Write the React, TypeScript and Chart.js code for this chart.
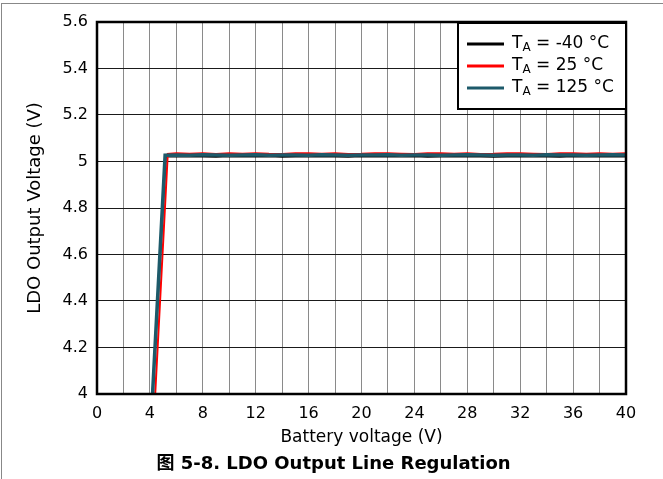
import React, { useEffect, useRef } from 'react';
import { Chart, registerables } from 'chart.js';

Chart.register(...registerables);

const legendLabels = ['-40 °C', '25 °C', '125 °C'];
const seriesColors = ['#000000', '#ff0000', '#1d5a6a'];
const seriesWidths = [2, 2, 3.5];

const flatX = [6, 7, 8, 9, 10, 11, 12, 13, 14, 15, 16, 17, 18, 19, 20, 21, 22, 23, 24, 25, 26, 27, 28, 29, 30, 31, 32, 33, 34, 35, 36, 37, 38, 39, 40];

const blackRiseX = [4.2, 5.2];
const blackRiseY = [4.0, 5.022];
const blackFlatY = [5.023, 5.021, 5.022, 5.020, 5.023, 5.022, 5.021, 5.023, 5.020, 5.022, 5.023, 5.021, 5.022, 5.020, 5.023, 5.022, 5.021, 5.022, 5.023, 5.020, 5.022, 5.021, 5.023, 5.022, 5.020, 5.022, 5.023, 5.021, 5.022, 5.020, 5.023, 5.022, 5.021, 5.023, 5.022];

const redRiseX = [4.4, 5.35];
const redRiseY = [4.0, 5.033];
const redFlatY = [5.035, 5.033, 5.036, 5.032, 5.035, 5.033, 5.036, 5.033, 5.032, 5.035, 5.036, 5.033, 5.035, 5.032, 5.033, 5.036, 5.035, 5.033, 5.032, 5.035, 5.036, 5.033, 5.035, 5.032, 5.033, 5.036, 5.035, 5.033, 5.032, 5.035, 5.036, 5.033, 5.035, 5.033, 5.035];

const tealRiseX = [4.2, 5.15];
const tealRiseY = [4.0, 5.027];
const tealFlatY = [5.028, 5.027, 5.029, 5.028, 5.027, 5.028, 5.029, 5.027, 5.028, 5.028, 5.027, 5.029, 5.028, 5.027, 5.028, 5.028, 5.029, 5.027, 5.028, 5.028, 5.027, 5.028, 5.029, 5.028, 5.027, 5.028, 5.028, 5.027, 5.029, 5.028, 5.028, 5.027, 5.028, 5.029, 5.028];

const yTicks = [4, 4.2, 4.4, 4.6, 4.8, 5, 5.2, 5.4, 5.6];
const yTickLabels = ['4', '4.2', '4.4', '4.6', '4.8', '5', '5.2', '5.4', '5.6'];
const xTicks = [0, 2, 4, 6, 8, 10, 12, 14, 16, 18, 20, 22, 24, 26, 28, 30, 32, 34, 36, 38, 40];
const xTickLabels = ['0', '', '4', '', '8', '', '12', '', '16', '', '20', '', '24', '', '28', '', '32', '', '36', '', '40'];

const xTitle = 'Battery voltage (V)';
const yTitle = 'LDO Output Voltage (V)';
const caption = '图 5-8. LDO Output Line Regulation';

const FONT = '"DejaVu Sans", "Liberation Sans", sans-serif';

function toPoints(rx: number[], ry: number[], fy: number[]) {
  const xs = [...rx, ...flatX];
  const ys = [...ry, ...fy];
  return xs.map((x, i) => ({ x, y: ys[i] }));
}

const framePlugin = {
  id: 'frame',
  afterDraw(chart: any) {
    const { ctx, chartArea: a } = chart;
    ctx.save();
    ctx.strokeStyle = '#000';
    ctx.lineWidth = 2.5;
    ctx.strokeRect(a.left, a.top, a.right - a.left, a.bottom - a.top);
    ctx.restore();
  },
};

const legendPlugin = {
  id: 'customLegend',
  afterDraw(chart: any) {
    const { ctx, chartArea: a } = chart;
    const w = 168;
    const h = 86;
    const left = a.right - w;
    const top = a.top + 1;
    ctx.save();
    ctx.fillStyle = '#fff';
    ctx.fillRect(left, top, w, h);
    ctx.strokeStyle = '#000';
    ctx.lineWidth = 2;
    ctx.strokeRect(left, top, w, h);
    legendLabels.forEach((lab, i) => {
      const y = top + 21 + i * 22;
      ctx.beginPath();
      ctx.strokeStyle = seriesColors[i];
      ctx.lineWidth = 3;
      ctx.moveTo(left + 9, y);
      ctx.lineTo(left + 46, y);
      ctx.stroke();
      ctx.fillStyle = '#000';
      ctx.textBaseline = 'middle';
      ctx.textAlign = 'left';
      let x = left + 54;
      ctx.font = `17px ${FONT}`;
      ctx.fillText('T', x, y);
      x += ctx.measureText('T').width;
      ctx.font = `12px ${FONT}`;
      ctx.fillText('A', x, y + 4);
      x += ctx.measureText('A').width;
      ctx.font = `17px ${FONT}`;
      ctx.fillText(' = ' + lab, x, y);
    });
    ctx.restore();
  },
};

const captionPlugin = {
  id: 'caption',
  afterDraw(chart: any) {
    const { ctx } = chart;
    ctx.save();
    ctx.fillStyle = '#000';
    ctx.font = `bold 18px "DejaVu Sans", "Noto Sans CJK SC", sans-serif`;
    ctx.textAlign = 'center';
    ctx.textBaseline = 'middle';
    ctx.fillText(caption, chart.width / 2 + 2, 464);
    ctx.restore();
  },
};

export default function App() {
  const ref = useRef<HTMLCanvasElement>(null);

  useEffect(() => {
    if (!ref.current) return;
    const chart = new Chart(ref.current, {
      type: 'line',
      data: {
        datasets: [
          { label: legendLabels[0], data: toPoints(blackRiseX, blackRiseY, blackFlatY) },
          { label: legendLabels[1], data: toPoints(redRiseX, redRiseY, redFlatY) },
          { label: legendLabels[2], data: toPoints(tealRiseX, tealRiseY, tealFlatY) },
        ].map((d, i) => ({
          ...d,
          order: 2 - i,
          borderColor: seriesColors[i],
          backgroundColor: seriesColors[i],
          borderWidth: seriesWidths[i],
          pointRadius: 0,
          tension: 0,
          fill: false,
        })),
      },
      options: {
        animation: false,
        responsive: false,
        devicePixelRatio: 1,
        layout: { padding: { left: 0, right: 37, top: 22, bottom: 31 } },
        plugins: {
          legend: { display: false },
          title: { display: false },
          tooltip: { enabled: false },
        },
        scales: {
          x: {
            type: 'linear',
            min: 0,
            max: 40,
            afterBuildTicks: (scale: any) => {
              scale.ticks = xTicks.map((v) => ({ value: v }));
            },
            afterFit: (scale: any) => {
              scale.height = 54;
            },
            ticks: {
              autoSkip: false,
              maxRotation: 0,
              padding: 10,
              color: '#000',
              font: { family: FONT, size: 16 },
              callback: (_v: any, i: number) => xTickLabels[i],
            },
            grid: { color: '#8a8a8a', lineWidth: 1, drawTicks: false },
            border: { display: false },
            title: {
              display: true,
              text: xTitle,
              color: '#000',
              font: { family: FONT, size: 17 },
              padding: { top: 0, bottom: 0 },
            },
          },
          y: {
            type: 'linear',
            min: 4,
            max: 5.6,
            afterBuildTicks: (scale: any) => {
              scale.ticks = yTicks.map((v) => ({ value: v }));
            },
            afterFit: (scale: any) => {
              scale.width = 97;
            },
            ticks: {
              padding: 9,
              color: '#000',
              font: { family: FONT, size: 16 },
              callback: (_v: any, i: number) => yTickLabels[i],
            },
            grid: { color: '#1a1a1a', lineWidth: 1, drawTicks: false },
            border: { display: false },
            title: {
              display: true,
              text: yTitle,
              color: '#000',
              font: { family: FONT, size: 18 },
              padding: { top: 25, bottom: 0 },
            },
          },
        },
      },
      plugins: [framePlugin, legendPlugin, captionPlugin],
    } as any);
    return () => chart.destroy();
  }, []);

  return (
    <div style={{ position: 'absolute', left: 0, top: 0, width: 663, height: 479, background: '#fff', overflow: 'hidden' }}>
      <div
        style={{
          position: 'absolute',
          left: 1,
          top: 3,
          width: 700,
          height: 500,
          borderLeft: '1px solid #888',
          borderTop: '1px solid #888',
          boxSizing: 'border-box',
        }}
      />
      <canvas ref={ref} width={663} height={479} style={{ position: 'absolute', left: 0, top: 0, display: 'block' }} />
    </div>
  );
}
